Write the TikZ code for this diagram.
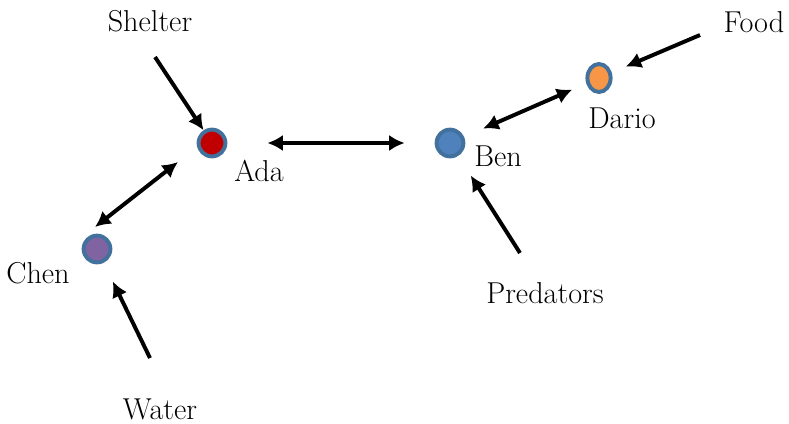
\documentclass[tikz,border=0pt]{standalone}
\usepackage{fontspec}
\usetikzlibrary{arrows.meta,shapes.geometric}
\definecolor{ringblue}{HTML}{41719C}
\definecolor{benblue}{HTML}{4F81BD}
\definecolor{adared}{HTML}{C00000}
\definecolor{darioorange}{HTML}{F79646}
\definecolor{chenpurple}{HTML}{8064A2}
\tikzset{
  person/.style={circle, draw=ringblue, line width=2.8pt, minimum size=0.67cm, inner sep=0pt},
  lbl/.style={font=\fontsize{21.5}{25}\selectfont, inner sep=1pt},
  link/.style={line width=2.8pt}
}
\begin{document}
\begin{tikzpicture}[x=0.025cm, y=-0.025cm, >={Latex[length=11pt,width=11.5pt]}]
\useasboundingbox (0,0) rectangle (789,423);
% people
\node[person, fill=adared] (ada) at (212,143) {};
\node[person, fill=benblue] (ben) at (450,143) {};
\node[person, ellipse, fill=darioorange, minimum width=0.58cm, minimum height=0.7cm] (dario) at (599,78) {};
\node[person, fill=chenpurple] (chen) at (97,249) {};
\node[lbl] (adalbl) at (259,171) {Ada};
\node[lbl] (benlbl) at (498,156) {Ben};
\node[lbl] (dariolbl) at (622,118) {Dario};
\node[lbl] (chenlbl) at (38,273) {Chen};
% needs
\node[lbl] (shelter) at (150,21) {Shelter};
\node[lbl] (food) at (754,22) {Food};
\node[lbl] (predators) at (545,293) {Predators};
\node[lbl] (water) at (160,409) {Water};
\coordinate (sheltertail) at (155,57);
\coordinate (foodtail) at (700,35);
\coordinate (predtail) at (520,253);
\coordinate (watertail) at (150,358);
\draw[link,->] (sheltertail) -- (ada);
\draw[link,->,shorten >=0.38cm] (foodtail) -- (dario);
\draw[link,->,shorten >=0.58cm] (predtail) -- (ben);
\draw[link,->,shorten >=0.52cm] (watertail) -- (chen);
% ties
\draw[link,<->,shorten <=1cm,shorten >=0.75cm] (ada) -- (ben);
\draw[link,<->,shorten <=0.52cm,shorten >=0.38cm] (ben) -- (dario);
\draw[link,<->] ([shift={(-34,19)}]ada.center) -- ([shift={(-2,-22)}]chen.center);
\end{tikzpicture}
\end{document}
